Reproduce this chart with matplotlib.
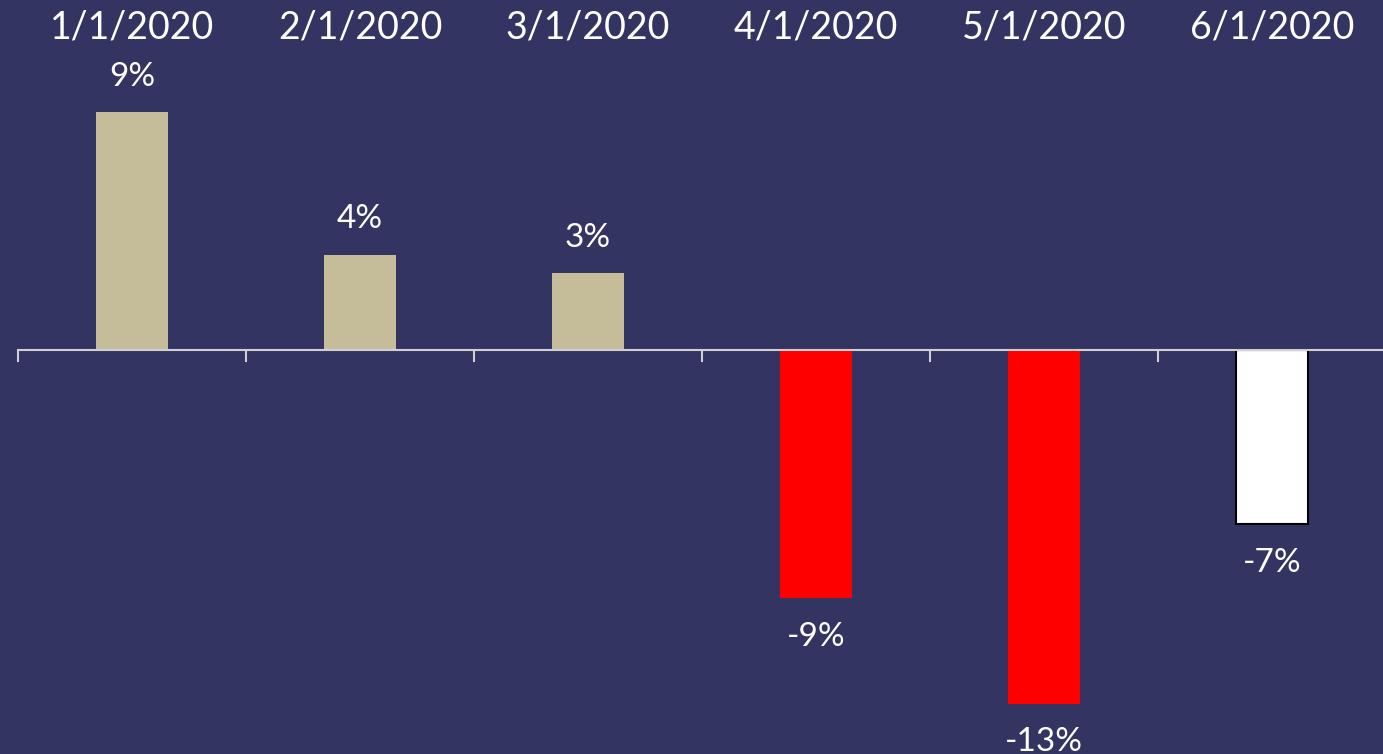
import matplotlib.pyplot as plt
from matplotlib import transforms

# monthly change, first of each month
months = ['1/1/2020', '2/1/2020', '3/1/2020', '4/1/2020', '5/1/2020', '6/1/2020']
change = [0.090, 0.036, 0.029, -0.094, -0.134, -0.066]
bar_colors = ['#C5BD99', '#C5BD99', '#C5BD99', '#FF0000', '#FF0000', '#FFFFFF']
edge_widths = [0, 0, 0, 0, 0, 1.5]

bg = '#343463'
axis_col = '#D0D0D0'

fig = plt.figure(figsize=(13.83, 7.54), dpi=100, facecolor=bg)
ax = fig.add_axes([18 / 1383, 0, 1368 / 1383, 1])
ax.set_facecolor(bg)

x = list(range(len(months)))
ax.bar(x, change, width=0.316, color=bar_colors, edgecolor='black',
       linewidth=edge_widths, zorder=2)

ax.set_xlim(-0.5, len(months) - 0.5)
ax.set_ylim(-404 / 2640, 350 / 2640)

for s in ['top', 'right', 'left']:
    ax.spines[s].set_visible(False)
ax.spines['bottom'].set_position(('data', 0))
ax.spines['bottom'].set_color(axis_col)
ax.spines['bottom'].set_linewidth(1.5)
ax.spines['bottom'].set_zorder(3)
ax.set_yticks([])
ax.set_xticks([i - 0.5 for i in range(len(months) + 1)])
ax.tick_params(axis='x', direction='out', length=8.5, width=1.5,
               color=axis_col, labelbottom=False)

# month names along the top edge
trans = transforms.blended_transform_factory(ax.transData, ax.transAxes)
for xi, m in zip(x, months):
    ax.text(xi, 1 - 27 / 754, m, transform=trans, ha='center', va='center',
            fontsize=27, color='white', family='Lato')

# value labels above / below each bar
for xi, v in zip(x, change):
    off = 15 if v >= 0 else -17
    ax.annotate(f'{v:.0%}', (xi, v), xytext=(0, off), textcoords='offset points',
                ha='center', va='bottom' if v >= 0 else 'top',
                fontsize=24, color='white', family='Lato')

fig.savefig('out.png', dpi=100, facecolor=bg)
